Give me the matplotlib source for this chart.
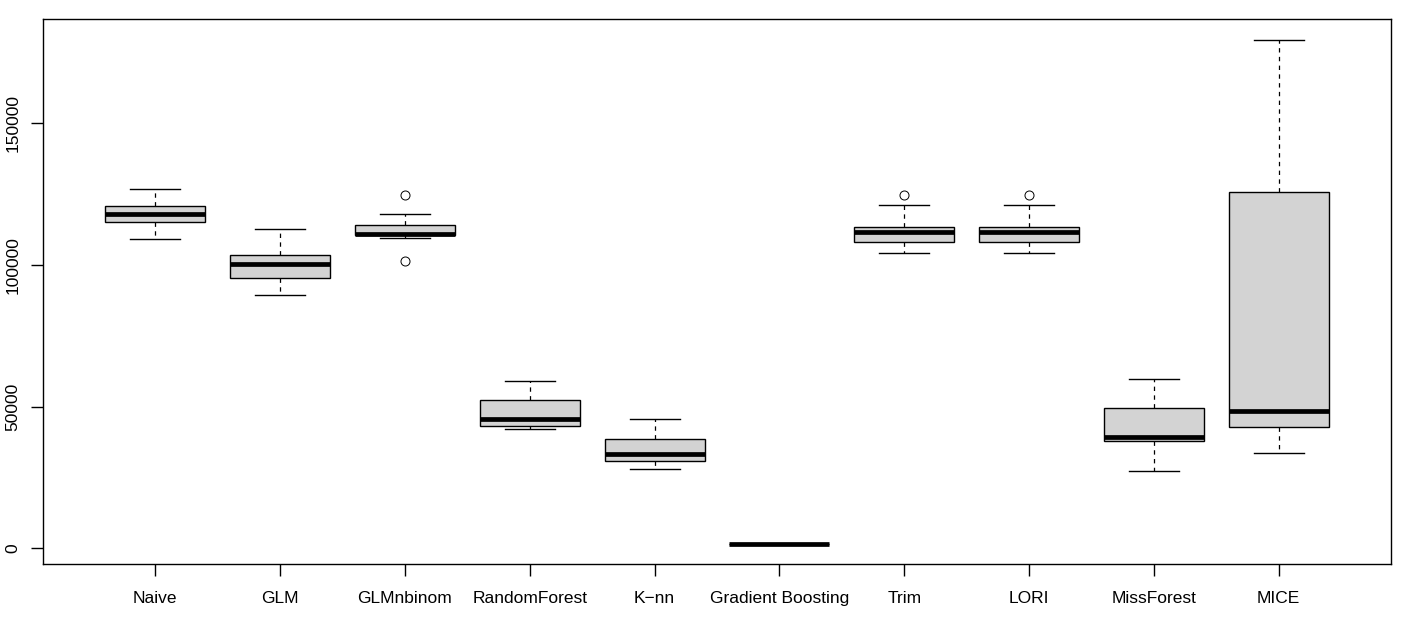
import matplotlib
matplotlib.use("Agg")
import matplotlib.pyplot as plt

plt.rcParams['font.family'] = ['Liberation Sans', 'DejaVu Sans']

methods = ['Naive', 'GLM', 'GLMnbinom', 'RandomForest', 'K\u2212nn',
           'Gradient Boosting', 'Trim', 'LORI', 'MissForest', 'MICE']

# five-number summaries: low whisker, q1, median, q3, high whisker
whislo = [109000, 89300, 109400, 42000, 28000, 1400, 104200, 104200, 27400, 33600]
q1 = [115000, 95300, 110500, 43000, 30700, 1400, 108000, 108000, 37900, 42700]
med = [117900, 100400, 111000, 45600, 33300, 1400, 111600, 111600, 39400, 48300]
q3 = [120700, 103400, 114000, 52200, 38500, 1400, 113500, 113500, 49400, 125600]
whishi = [126800, 112600, 117900, 58900, 45500, 1400, 121000, 121000, 59600, 179500]
outliers = [[], [], [124800, 101300], [], [], [], [124700], [124700], [], []]

stats = []
for i in range(len(methods)):
    stats.append(dict(label=methods[i], whislo=whislo[i], q1=q1[i], med=med[i],
                      q3=q3[i], whishi=whishi[i], fliers=outliers[i]))

fig = plt.figure(figsize=(14.03, 6.21), dpi=100)
ax = fig.add_axes([43/1403, 57/621, 1348/1403, 545/621])

ax.bxp(stats, positions=range(1, 11), widths=0.8, capwidths=0.4,
       patch_artist=True, showfliers=True,
       boxprops=dict(facecolor='#d3d3d3', edgecolor='black', linewidth=1.0),
       medianprops=dict(color='black', linewidth=3.4, solid_capstyle='butt'),
       whiskerprops=dict(color='black', linewidth=0.9, linestyle=(0, (3.5, 3.5))),
       capprops=dict(color='black', linewidth=1.0),
       flierprops=dict(marker='o', markerfacecolor='none', markeredgecolor='black',
                       markersize=6.5, markeredgewidth=0.7))

ax.set_xlim(0.1, 10.9)
ax.set_ylim(-5540, 186770)
ax.set_yticks([0, 50000, 100000, 150000])
ax.set_yticklabels(['0', '50000', '100000', '150000'], rotation=90, va='center')
ax.set_xticks(range(1, 11))
ax.set_xticklabels(methods)
ax.tick_params(axis='both', length=8.4, width=1.0, labelsize=12.5)
ax.tick_params(axis='x', pad=11)
ax.tick_params(axis='y', pad=8)
for s in ax.spines.values():
    s.set_linewidth(1.0)

fig.savefig('out.png', dpi=100)
